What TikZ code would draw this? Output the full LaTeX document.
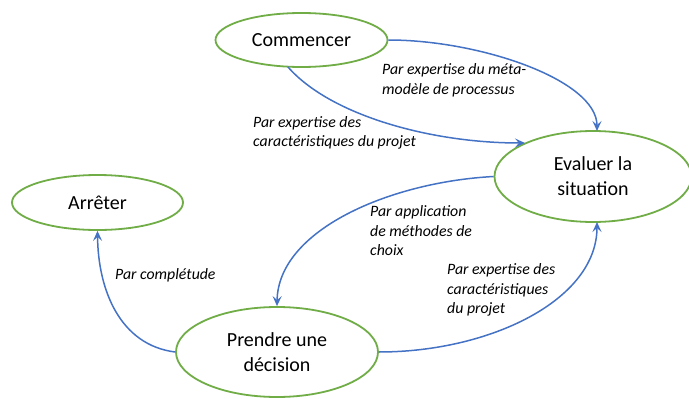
\documentclass[tikz,border=0pt]{standalone}
\usepackage{fontspec}
\setmainfont{Carlito}
\usetikzlibrary{arrows.meta,shapes.geometric}
\definecolor{ogreen}{HTML}{70AD47}
\definecolor{oblue}{HTML}{4472C4}
\begin{document}
\begin{tikzpicture}[x=1pt,y=-1pt,
  state/.style={ellipse,draw=ogreen,line width=1.8pt,fill=white,inner sep=0pt,align=center,
    font=\fontsize{20}{25}\selectfont},
  conn/.style={draw=oblue,line width=1.5pt,-{Stealth[length=10pt,width=9pt,inset=4pt]}},
  lbl/.style={inner sep=0pt,anchor=west,align=left,font=\fontsize{15.8}{19.5}\selectfont\itshape}]
\useasboundingbox (0,0) rectangle (689,399);
\node[state,minimum width=172pt,minimum height=54pt] (com) at (301.5,40) {Commencer};
\node[state,minimum width=197pt,minimum height=91pt] (eva) at (593,176.5) {Evaluer la\\situation};
\node[state,minimum width=171pt,minimum height=55pt] (arr) at (97.5,202.5) {Arrêter};
\node[state,minimum width=202pt,minimum height=90pt] (pre) at (277,352) {Prendre une\\décision};
\coordinate (evatop) at (597,131);
\coordinate (evatl) at (525,143);
\coordinate (evabot) at (597,222);
\coordinate (comb) at (288,67);
\draw[conn] (com.east) .. controls (480,40) and (597,80) .. (evatop);
\draw[conn] (comb) .. controls (330,115) and (430,143) .. (evatl);
\draw[conn] (eva.west) .. controls (390,182) and (278,230) .. (pre.north);
\draw[conn] (pre.east) .. controls (490,352) and (597,300) .. (evabot);
\draw[conn] (pre.west) .. controls (120,345) and (98,290) .. (arr.south);
\node[lbl] (l1) at (382,80.5) {Par expertise du méta-\\modèle de processus};
\node[lbl] (l2) at (253,133) {Par expertise des\\caractéristiques du projet};
\node[lbl] (l3) at (370,231) {Par application\\de méthodes de\\choix};
\node[lbl] (l4) at (447,290) {Par expertise des\\caractéristiques\\du projet};
\node[lbl] (l5) at (115,275) {Par complétude};
\end{tikzpicture}
\end{document}
